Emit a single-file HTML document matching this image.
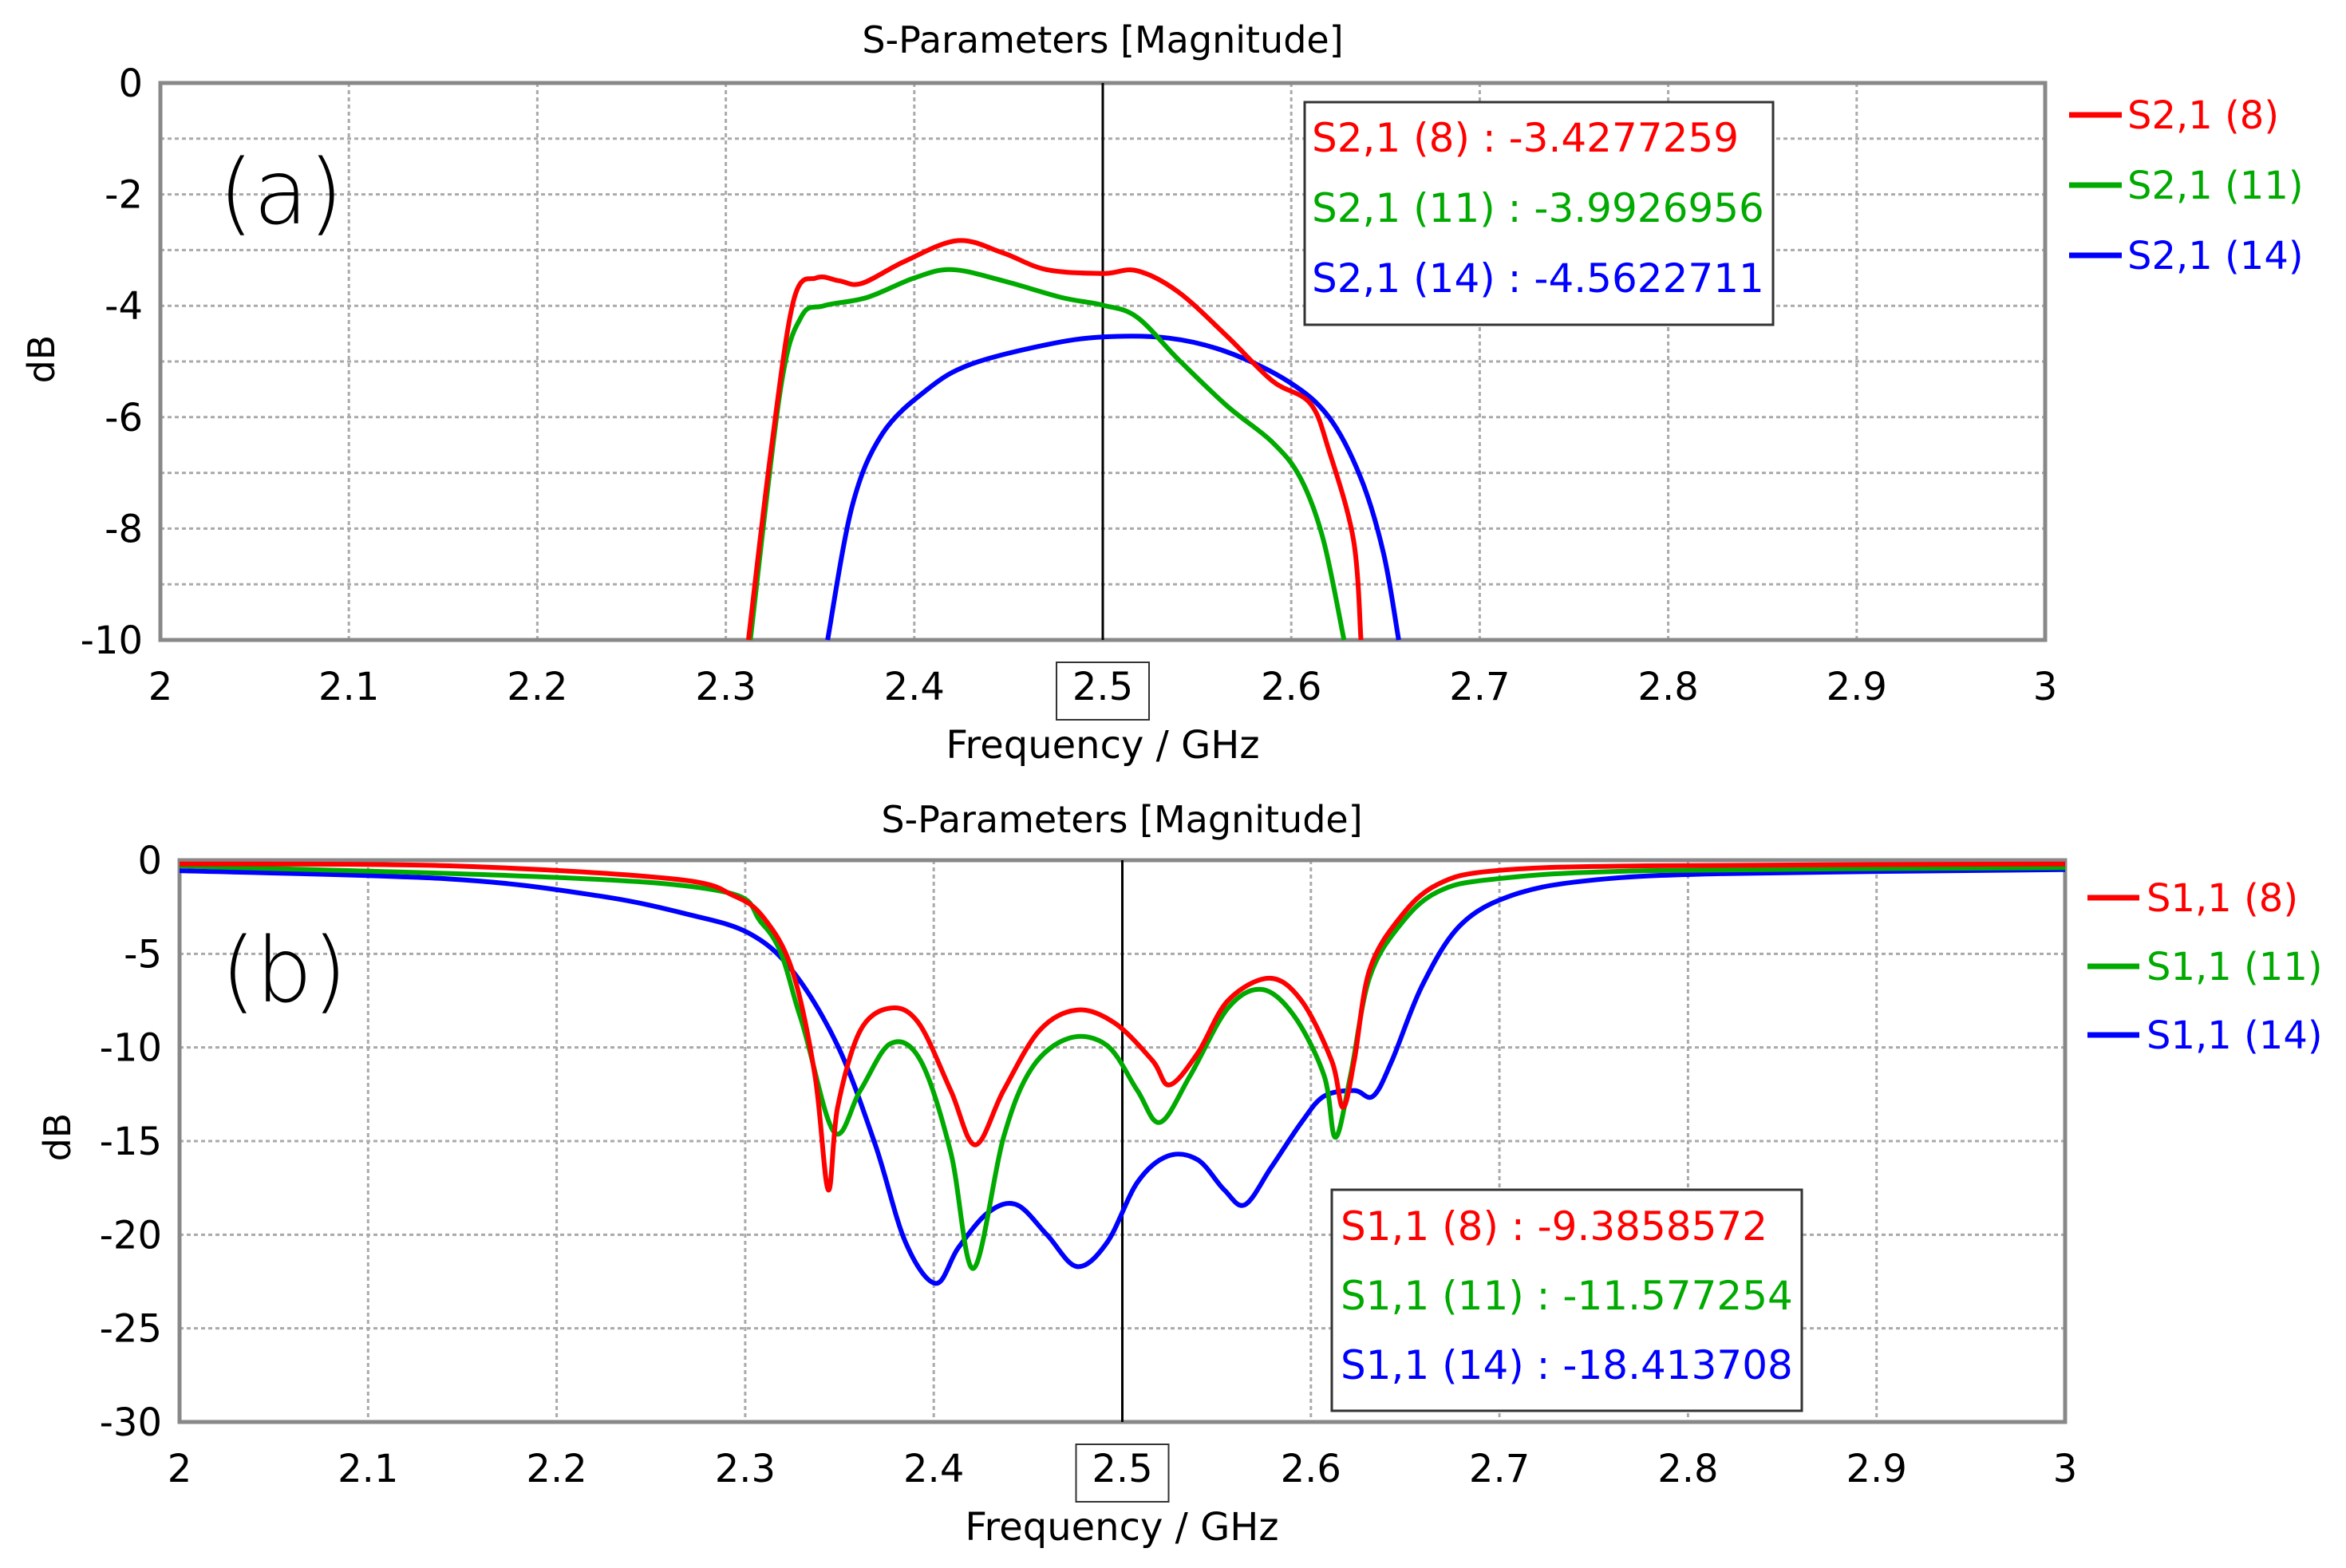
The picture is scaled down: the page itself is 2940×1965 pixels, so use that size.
<!DOCTYPE html>
<html><head><meta charset="utf-8"><style>
html,body{margin:0;padding:0;background:#fff;}
svg{display:block;font-family:"DejaVu Sans","Liberation Sans",sans-serif;}
</style></head><body>
<svg id="c" width="2940" height="1965" viewBox="0 0 2940 1965" xmlns="http://www.w3.org/2000/svg"></svg>
<script>
const xTicks=[2,2.1,2.2,2.3,2.4,2.5,2.6,2.7,2.8,2.9,3];
const yTicksA=[0,-2,-4,-6,-8,-10];
const yTicksB=[0,-5,-10,-15,-20,-25,-30];
// Panel (a) S21
const a8f=[2.312,2.324,2.336,2.348,2.36,2.372,2.395,2.423,2.447,2.47,2.5,2.518,2.54,2.566,2.59,2.61,2.62,2.633,2.637];
const a8v=[-10,-6.6,-3.9,-3.5,-3.55,-3.6,-3.2,-2.83,-3.05,-3.35,-3.42,-3.37,-3.75,-4.55,-5.35,-5.75,-6.6,-8.2,-10];
const a11f=[2.313,2.329,2.34,2.352,2.375,2.4,2.42,2.447,2.478,2.5,2.518,2.54,2.566,2.59,2.605,2.617,2.628];
const a11v=[-10,-5.5,-4.2,-4.0,-3.85,-3.5,-3.35,-3.55,-3.85,-3.99,-4.2,-4.96,-5.8,-6.45,-7.1,-8.2,-10];
const a14f=[2.354,2.367,2.383,2.407,2.43,2.47,2.5,2.535,2.566,2.598,2.62,2.637,2.649,2.657];
const a14v=[-10,-7.6,-6.3,-5.5,-5.05,-4.7,-4.56,-4.58,-4.83,-5.35,-6.0,-7.1,-8.45,-10];
// Panel (b) S11
const b8f=[2,2.143,2.262,2.294,2.31,2.325,2.337,2.344,2.349,2.361,2.377,2.392,2.409,2.422,2.437,2.456,2.476,2.496,2.516,2.525,2.54,2.556,2.578,2.595,2.611,2.617,2.623,2.631,2.647,2.667,2.698,2.778,3];
const b8v=[-0.2,-0.3,-1,-1.9,-3.1,-5.9,-11.5,-17.6,-13.2,-9.1,-7.9,-8.7,-12.3,-15.2,-12.3,-9.1,-8.0,-8.7,-10.7,-12,-10.3,-7.5,-6.3,-7.5,-10.7,-13.2,-10.7,-5.9,-3.1,-1.3,-0.56,-0.3,-0.2];
const b11f=[2,2.262,2.31,2.329,2.347,2.361,2.377,2.393,2.409,2.421,2.437,2.452,2.472,2.492,2.508,2.52,2.536,2.556,2.574,2.591,2.607,2.613,2.621,2.631,2.647,2.667,2.698,2.778,3];
const b11v=[-0.3,-1.3,-3.5,-8.3,-14.5,-12.3,-9.8,-10.7,-15.6,-21.8,-14.8,-11.1,-9.5,-9.9,-12.3,-14,-11.5,-7.9,-6.9,-8.3,-11.5,-14.8,-11.5,-6.3,-3.5,-1.7,-1.0,-0.56,-0.4];
const b14f=[2,2.143,2.222,2.27,2.302,2.325,2.349,2.369,2.385,2.401,2.413,2.429,2.444,2.46,2.476,2.492,2.508,2.524,2.54,2.554,2.565,2.579,2.595,2.607,2.623,2.633,2.643,2.659,2.679,2.706,2.746,2.817,3];
const b14v=[-0.56,-1,-1.9,-2.9,-3.9,-5.9,-9.9,-15.2,-20.4,-22.6,-20.7,-18.8,-18.4,-20,-21.7,-20.4,-17.2,-15.8,-16,-17.6,-18.4,-16.4,-14,-12.6,-12.3,-12.6,-10.7,-6.7,-3.5,-1.9,-1.1,-0.72,-0.5];

const NS="http://www.w3.org/2000/svg";
const svg=document.getElementById('c');
function mk(t,at,txt,parent){const e=document.createElementNS(NS,t);for(const k in at)e.setAttribute(k,at[k]);if(txt!==undefined)e.textContent=txt;(parent||svg).appendChild(e);return e;}
function path(xs,ys,sx,sy){const p=xs.map((f,i)=>[sx(f),sy(ys[i])]);let d='M'+p[0][0]+','+p[0][1];
 for(let i=0;i<p.length-1;i++){const p0=p[Math.max(0,i-1)],p1=p[i],p2=p[i+1],p3=p[Math.min(p.length-1,i+2)];
 const c1x=p1[0]+(p2[0]-p0[0])/6,c1y=p1[1]+(p2[1]-p0[1])/6,c2x=p2[0]-(p3[0]-p1[0])/6,c2y=p2[1]-(p3[1]-p1[1])/6;
 d+=` C${c1x},${c1y} ${c2x},${c2y} ${p2[0]},${p2[1]}`;}return d;}

function panel(cfg){
 const {L,R,T,B,ymin,yTicks,minor,key}=cfg;
 const sx=f=>L+(f-2)/(3-2)*(R-L);
 const sy=v=>T+(0-v)/(0-ymin)*(B-T);
 const g=mk('g',{});
 
 
 for(const v of minor){mk('line',{x1:L,x2:R,y1:sy(v),y2:sy(v),stroke:'#aaa','stroke-width':3,'stroke-dasharray':'5,4'},undefined,g);}
 for(const f of xTicks){mk('line',{x1:sx(f),x2:sx(f),y1:T,y2:B,stroke:'#aaa','stroke-width':3,'stroke-dasharray':'5,4'},undefined,g);
  const t=mk('text',{x:sx(f),y:cfg.xlabY+2,'text-anchor':'middle','font-size':48,fill:'#000'},String(f),g);
  
  }
 for(const v of yTicks){const t=mk('text',{x:L-22,y:sy(v)+17,'text-anchor':'end','font-size':48,fill:'#000'},String(v),g);
  
  }
 mk('rect',{x:L,y:T,width:R-L,height:B-T,fill:'none',stroke:'#888','stroke-width':5},undefined,g);
 const mx=sx(2.5);
 mk('line',{x1:mx,x2:mx,y1:T,y2:B,stroke:'#000','stroke-width':3},undefined,g);
 mk('rect',{x:mx-58,y:cfg.xlabY-45,width:116,height:72,fill:'none',stroke:'#333','stroke-width':2},undefined,g);
 for(const s of cfg.series){const p=mk('path',{d:path(s.f,s.v,sx,sy),fill:'none',stroke:s.c,'stroke-width':6,'stroke-linejoin':'round'},undefined,g);
  
  }
 return g;
}
const C=['#ff0000','#00aa00','#0000ff'];
panel({key:'a',L:201,R:2563,T:104,B:802,ymin:-10,yTicks:yTicksA,minor:[-1,-2,-3,-4,-5,-6,-7,-8,-9],xlabY:875,
 series:[{f:a14f,v:a14v,c:C[2],name:'s21-14-curve'},{f:a11f,v:a11v,c:C[1],name:'s21-11-curve'},{f:a8f,v:a8v,c:C[0],name:'s21-8-curve'}]});
panel({key:'b',L:225,R:2588,T:1078,B:1782,ymin:-30,yTicks:yTicksB,minor:[-5,-10,-15,-20,-25],xlabY:1855,
 series:[{f:b14f,v:b14v,c:C[2],name:'s11-14-curve'},{f:b11f,v:b11v,c:C[1],name:'s11-11-curve'},{f:b8f,v:b8v,c:C[0],name:'s11-8-curve'}]});

function txt(name,at,s){const t=mk('text',at,s);return t;}
txt('title-a',{x:1382,y:66,'text-anchor':'middle','font-size':46},'S-Parameters [Magnitude]');
txt('title-b',{x:1406,y:1043,'text-anchor':'middle','font-size':46},'S-Parameters [Magnitude]');
txt('x-axis-title-a',{x:1382,y:950,'text-anchor':'middle','font-size':48},'Frequency / GHz');
txt('x-axis-title-b',{x:1406,y:1930,'text-anchor':'middle','font-size':48},'Frequency / GHz');
txt('y-axis-title-a',{x:68,y:450,'text-anchor':'middle','font-size':46,transform:'rotate(-90 68 450)'},'dB');
txt('y-axis-title-b',{x:88,y:1425,'text-anchor':'middle','font-size':46,transform:'rotate(-90 88 1425)'},'dB');
txt('panel-label-a',{x:352,y:280,'text-anchor':'middle','font-size':112,'font-weight':'300'},'(a)');
txt('panel-label-b',{x:356,y:1255,'text-anchor':'middle','font-size':112,'font-weight':'300'},'(b)');

mk('rect',{x:1635,y:128,width:587,height:279,fill:'#fff',stroke:'#333','stroke-width':3});
const ma=['S2,1 (8) : -3.4277259','S2,1 (11) : -3.9926956','S2,1 (14) : -4.5622711'];
ma.forEach((s,i)=>txt('marker-a-value',{x:1644,y:190+i*88,'font-size':50,fill:C[i]},s));
mk('rect',{x:1669,y:1491,width:589,height:277,fill:'#fff',stroke:'#333','stroke-width':3});
const mb=['S1,1 (8) : -9.3858572','S1,1 (11) : -11.577254','S1,1 (14) : -18.413708'];
mb.forEach((s,i)=>txt('marker-b-value',{x:1680,y:1554+i*87,'font-size':50,fill:C[i]},s));

const la=['S2,1 (8)','S2,1 (11)','S2,1 (14)'];
la.forEach((s,i)=>{const y=144+i*88;mk('line',{x1:2593,x2:2659,y1:y,y2:y,stroke:C[i],'stroke-width':7});
 const t=mk('text',{x:2666,y:y+17,'font-size':48,fill:C[i]},s);});
const lb=['S1,1 (8)','S1,1 (11)','S1,1 (14)'];
lb.forEach((s,i)=>{const y=1125+i*86;mk('line',{x1:2616,x2:2681,y1:y,y2:y,stroke:C[i],'stroke-width':7});
 const t=mk('text',{x:2690,y:y+17,'font-size':48,fill:C[i]},s);});
</script>
</body></html>
